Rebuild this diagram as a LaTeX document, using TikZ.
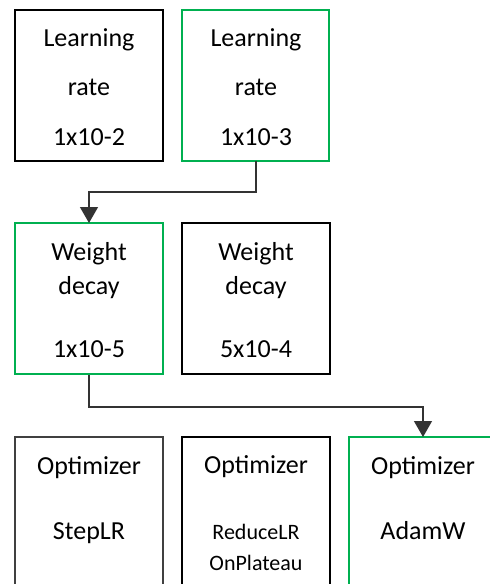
\documentclass[tikz,border=0pt]{standalone}
\usepackage{fontspec}
\setmainfont{Carlito}
\usetikzlibrary{arrows.meta}
\definecolor{selgreen}{RGB}{0,176,80}
\tikzset{
  box/.style={draw=black, line width=1.6pt, rectangle},
  chosen/.style={draw=selgreen, line width=1.6pt, rectangle},
  plainbox/.style={draw=black!75, line width=1.3pt, rectangle},
  lbl/.style={font=\fontsize{26}{31}\selectfont, text=black, inner sep=0pt, anchor=base},
  link/.style={draw=black!80, line width=1.2pt, -{Triangle[length=16pt,width=18pt]}}
}
\begin{document}
\begin{tikzpicture}[x=1pt,y=-1pt]
\useasboundingbox (0,0) rectangle (490,584);
% learning rate row
\draw[box] (15,10) rectangle (163,161);
\draw[chosen] (182,10) rectangle (329,161);
\node[lbl] (lr1a) at (89,46) {Learning};
\node[lbl] (lr1b) at (89,95) {rate};
\node[lbl] (lr1c) at (89,145) {1x10-2};
\node[lbl] (lr2a) at (256,46) {Learning};
\node[lbl] (lr2b) at (256,95) {rate};
\node[lbl] (lr2c) at (256,145) {1x10-3};
\coordinate (lr2bot) at (256,161);
% weight decay row
\draw[chosen] (15,223) rectangle (163,374);
\draw[box] (182,223) rectangle (330,374);
\node[lbl] (wd1a) at (89,260) {Weight};
\node[lbl] (wd1b) at (89,294) {decay};
\node[lbl] (wd1c) at (89,357) {1x10-5};
\node[lbl] (wd2a) at (256,260) {Weight};
\node[lbl] (wd2b) at (256,294) {decay};
\node[lbl] (wd2c) at (256,357) {5x10-4};
\coordinate (wd1top) at (89,223);
\coordinate (wd1bot) at (89,375);
% optimizer row
\draw[plainbox] (15,437) rectangle (163,600);
\draw[box] (182,437) rectangle (330,600);
\draw[chosen] (349,437) rectangle (500,600);
\node[lbl] (op1a) at (89,474) {Optimizer};
\node[lbl] (op1b) at (89,539) {StepLR};
\node[lbl] (op2a) at (256,473) {Optimizer};
\node[lbl,font=\fontsize{22}{26}\selectfont] (op2b) at (256,539) {ReduceLR};
\node[lbl,font=\fontsize{22}{26}\selectfont] (op2c) at (256,570) {OnPlateau};
\node[lbl] (op3a) at (423,474) {Optimizer};
\node[lbl] (op3b) at (423,539) {AdamW};
\coordinate (op3top) at (423,437);
% connectors
\draw[link] (lr2bot) -- (256,192) -- (89,192) -- (wd1top);
\draw[link] (wd1bot) -- (89,407) -- (423,407) -- (op3top);
\end{tikzpicture}
\end{document}
